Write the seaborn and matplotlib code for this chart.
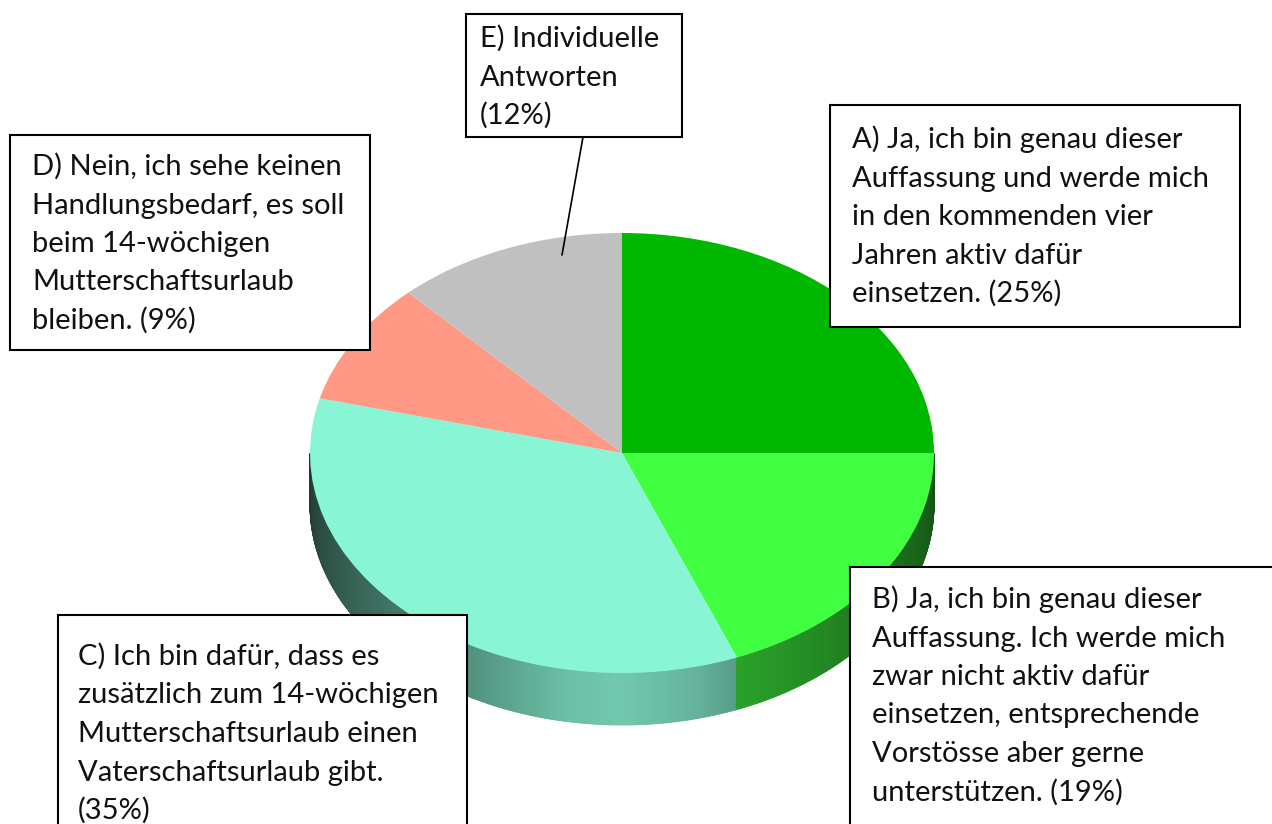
import numpy as np
import matplotlib
matplotlib.use("Agg")
import matplotlib.pyplot as plt
import seaborn as sns
from matplotlib.patches import Rectangle, Polygon

# Daten aus der Umfrage
kategorien = ["A", "B", "C", "D", "E"]
anteile = [25, 19, 35, 9, 12]
farben = ["#00B800", "#40FF40", "#88F5D4", "#FF9985", "#C0C0C0"]
beschriftungen = [
    ["A) Ja, ich bin genau dieser", "Auffassung und werde mich",
     "in den kommenden vier", "Jahren aktiv dafür", "einsetzen. (25%)"],
    ["B) Ja, ich bin genau dieser", "Auffassung. Ich werde mich",
     "zwar nicht aktiv dafür", "einsetzen, entsprechende",
     "Vorstösse aber gerne", "unterstützen. (19%)"],
    ["C) Ich bin dafür, dass es", "zusätzlich zum 14-wöchigen",
     "Mutterschaftsurlaub einen", "Vaterschaftsurlaub gibt.", "(35%)"],
    ["D) Nein, ich sehe keinen", "Handlungsbedarf, es soll",
     "beim 14-wöchigen", "Mutterschaftsurlaub", "bleiben. (9%)"],
    ["E) Individuelle", "Antworten", "(12%)"],
]

# Layout in Pixeln
W, H = 1272, 824
cx, cy, rx, ry, tiefe = 622, 453, 312, 220, 52
# box: links, oben, rechts, unten, text_x, erste Grundlinie
boxen = {
    "A": (830, 105, 1240, 327, 852, 148),
    "B": (850, 567, 1290, 840, 872, 608),
    "C": (58, 615, 467, 840, 78, 665),
    "D": (10, 135, 370, 350, 32, 175),
    "E": (466, 14, 682, 137, 480, 47),
}
zeilenabstand = 38.5

sns.set_style("white")
plt.rcParams['font.family'] = ['Lato', 'DejaVu Sans']

fig = plt.figure(figsize=(W / 100, H / 100), dpi=100)
ax = fig.add_axes([0, 0, 1, 1])

# Seitenwand (nur vordere Hälfte sichtbar)
anteile_arr = np.array(anteile, dtype=float)
cum = np.concatenate([[0], np.cumsum(anteile_arr) / anteile_arr.sum()])
pal = sns.color_palette(farben)
d = tiefe / ry
schatten_t = [-180, -150, -120, -100, -90, -75, -68, -40, -15, 0]
schatten_s = [0.22, 0.40, 0.58, 0.78, 0.82, 0.72, 0.63, 0.48, 0.38, 0.32]
ts = np.linspace(-180, 0, 721)
for t0, t1 in zip(ts[:-1], ts[1:]):
    tm = 0.5 * (t0 + t1)
    frac = ((90 - tm) % 360) / 360
    i = np.searchsorted(cum, frac, side='right') - 1
    s = np.interp(tm, schatten_t, schatten_s)
    c = tuple(np.clip(np.array(pal[i]) * s, 0, 1))
    a0, a1 = np.radians(t0), np.radians(t1)
    poly = [(np.cos(a0), np.sin(a0)), (np.cos(a1), np.sin(a1)),
            (np.cos(a1), np.sin(a1) - d), (np.cos(a0), np.sin(a0) - d)]
    ax.add_patch(Polygon(poly, closed=True, facecolor=c, edgecolor=c, linewidth=0.6))

ax.pie(anteile, colors=farben, startangle=90, counterclock=False,
       wedgeprops=dict(linewidth=0.3, edgecolor='none'))
ax.set_aspect('auto')
ax.set_xlim(-cx / rx, (W - cx) / rx)
ax.set_ylim(-(H - cy) / ry, cy / ry)
ax.axis('off')

# Textboxen
ax2 = fig.add_axes([0, 0, 1, 1], zorder=5)
ax2.set_xlim(0, W)
ax2.set_ylim(H, 0)
ax2.axis('off')
ax2.patch.set_alpha(0)

# Verbindungslinie zu E
ax2.plot([583, 562], [137, 255], color='black', linewidth=1.2, zorder=1)

for k, zeilen in zip(kategorien, beschriftungen):
    x0, y0, x1, y1, tx, ty = boxen[k]
    ax2.add_patch(Rectangle((x0, y0), x1 - x0, y1 - y0, facecolor='white',
                            edgecolor='black', linewidth=1.5, zorder=2))
    for j, z in enumerate(zeilen):
        ax2.text(tx, ty + j * zeilenabstand, z, fontsize=21, color='#111111',
                 ha='left', va='baseline', zorder=3)

fig.savefig("out.png", dpi=100)
